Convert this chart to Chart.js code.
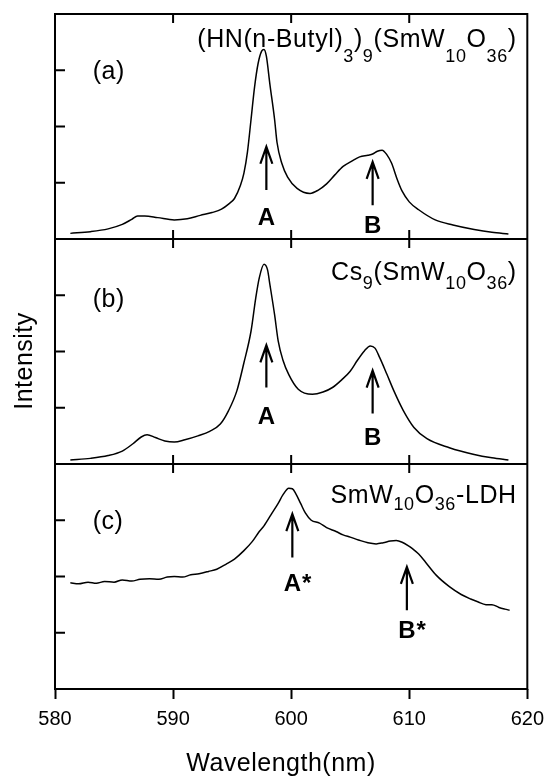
<!DOCTYPE html>
<html>
<head>
<meta charset="utf-8">
<script src="https://cdn.jsdelivr.net/npm/chart.js@4.4.1/dist/chart.umd.min.js"></script>
<style>
  html, body { margin: 0; padding: 0; background: #fff; }
  canvas { display: block; }
</style>
</head>
<body>
<canvas id="spectra" width="552" height="780"></canvas>
<script>
// panel (a): (HN(n-Butyl)3)9(SmW10O36)
const waveA = [581.3, 583.0, 584.5, 585.7, 586.5, 587.0, 587.6, 588.7, 590.1, 591.2, 592.3, 593.3, 594.1, 594.7, 595.2, 595.7, 596.0, 596.3, 596.6, 596.9, 597.2, 597.5, 597.7, 597.9, 598.2, 598.6, 598.8, 599.2, 599.7, 600.5, 601.6, 602.3, 603.0, 603.7, 604.4, 605.1, 605.8, 606.5, 606.9, 607.3, 607.7, 608.1, 608.5, 609.0, 609.4, 610.0, 610.8, 612.2, 613.7, 615.5, 617.0, 618.4];
const intA  = [0.10, 0.13, 0.18, 0.26, 0.35, 0.41, 0.41, 0.38, 0.34, 0.36, 0.42, 0.47, 0.53, 0.62, 0.72, 0.95, 1.17, 1.55, 2.12, 2.70, 3.12, 3.34, 3.37, 3.25, 2.75, 2.12, 1.72, 1.35, 1.10, 0.90, 0.81, 0.87, 0.98, 1.14, 1.29, 1.38, 1.46, 1.49, 1.51, 1.56, 1.58, 1.50, 1.35, 1.05, 0.85, 0.66, 0.52, 0.34, 0.25, 0.17, 0.12, 0.09];

// panel (b): Cs9(SmW10O36)
const waveB = [581.3, 583.0, 584.5, 585.7, 586.6, 587.3, 587.8, 588.5, 589.3, 590.1, 591.0, 592.1, 593.1, 594.0, 594.7, 595.4, 596.0, 596.6, 597.0, 597.3, 597.7, 598.0, 598.2, 598.6, 598.9, 599.3, 599.8, 600.6, 601.8, 602.7, 603.5, 604.3, 605.0, 605.6, 606.2, 606.7, 607.1, 607.5, 608.1, 608.7, 609.5, 610.4, 611.5, 613.4, 615.5, 617.0, 618.4];
const intB  = [0.07, 0.10, 0.15, 0.23, 0.36, 0.48, 0.52, 0.47, 0.41, 0.39, 0.43, 0.50, 0.58, 0.71, 0.95, 1.30, 1.80, 2.36, 2.95, 3.31, 3.55, 3.45, 3.19, 2.65, 2.19, 1.85, 1.59, 1.33, 1.24, 1.28, 1.36, 1.50, 1.65, 1.84, 2.01, 2.10, 2.06, 1.89, 1.60, 1.30, 0.95, 0.65, 0.45, 0.29, 0.17, 0.11, 0.07];

// panel (c): SmW10O36-LDH
const waveC = [581.3, 582.0, 582.8, 583.5, 584.2, 585.0, 585.7, 586.5, 587.2, 588.0, 588.8, 589.5, 590.1, 590.8, 591.5, 592.2, 593.0, 593.7, 594.5, 595.2, 596.0, 596.7, 597.3, 597.7, 598.3, 598.9, 599.3, 599.8, 600.1, 600.4, 600.8, 601.2, 601.7, 602.4, 603.0, 603.8, 604.4, 605.0, 605.7, 606.5, 607.2, 607.8, 608.4, 608.9, 609.4, 609.9, 610.3, 610.8, 611.4, 612.3, 613.4, 614.4, 615.2, 615.8, 616.5, 617.0, 617.6, 618.1, 618.5];
const intC  = [1.89, 1.87, 1.90, 1.88, 1.91, 1.90, 1.94, 1.92, 1.95, 1.96, 1.95, 1.99, 2.00, 1.99, 2.03, 2.05, 2.09, 2.13, 2.22, 2.31, 2.46, 2.62, 2.80, 2.90, 3.10, 3.30, 3.45, 3.57, 3.56, 3.47, 3.30, 3.13, 3.00, 2.95, 2.87, 2.80, 2.74, 2.70, 2.65, 2.60, 2.58, 2.60, 2.63, 2.64, 2.61, 2.55, 2.49, 2.40, 2.25, 2.02, 1.82, 1.68, 1.60, 1.55, 1.50, 1.50, 1.45, 1.42, 1.40];

const xTickValues = [580, 590, 600, 610, 620];
const yTickValues = [1, 2, 3];

// peak markers: panel, wavelength, arrow tail / head, label baseline (intensity units)
const markText  = ['A', 'B', 'A', 'B', 'A*', 'B*'];
const markPanel = ['ya', 'ya', 'yb', 'yb', 'yc', 'yc'];
const markWave  = [597.9, 606.9, 597.9, 606.9, 600.1, 609.8];
const markTail  = [0.87, 0.60, 1.36, 0.90, 2.34, 1.40];
const markHead  = [1.64, 1.37, 2.11, 1.66, 3.11, 2.17];
const markBase  = [0.25, 0.11, 0.71, 0.34, 1.75, 0.90];

const panelTags = ['(a)', '(b)', '(c)'];
const tagBase   = [2.85, 2.79, 2.84];
const formulaBase = [3.41, 3.27, 3.31];
// [text, isSubscript]
const formulaA = [['(HN(n-Butyl)', 0], ['3', 1], [')', 0], ['9', 1], ['(SmW', 0], ['10', 1], ['O', 0], ['36', 1], [')', 0]];
const formulaB = [['Cs', 0], ['9', 1], ['(SmW', 0], ['10', 1], ['O', 0], ['36', 1], [')', 0]];
const formulaC = [['SmW', 0], ['10', 1], ['O', 0], ['36', 1], ['-LDH', 0]];

const FONT = "'Liberation Sans', Arial, Helvetica, sans-serif";
const panelIds = ['ya', 'yb', 'yc'];
const formulas = [formulaA, formulaB, formulaC];
const subDrop = [15, 9, 7];

function toPoints(xs, ys) {
    return xs.map((x, i) => ({ x: x, y: ys[i] }));
}

function drawFormula(ctx, parts, right, base, drop) {
    ctx.letterSpacing = '0.6px';
    ctx.textAlign = 'left';
    ctx.textBaseline = 'alphabetic';
    const widths = parts.map(p => {
        ctx.font = (p[1] ? '18px ' : '25px ') + FONT;
        return ctx.measureText(p[0]).width;
    });
    let x = right - widths.reduce((a, b) => a + b, 0);
    parts.forEach((p, i) => {
        ctx.font = (p[1] ? '18px ' : '25px ') + FONT;
        ctx.fillText(p[0], x, base + (p[1] ? drop : 0));
        x += widths[i];
    });
    ctx.letterSpacing = '0px';
}

// frame, inner ticks, arrows and all the in-plot text
const panelInk = {
    id: 'panelInk',
    afterDraw(chart) {
        const ctx = chart.ctx;
        const area = chart.chartArea;
        const xs = chart.scales.x;
        ctx.save();
        ctx.strokeStyle = '#000';
        ctx.fillStyle = '#000';
        ctx.lineWidth = 2;

        // frame + separators
        ctx.strokeRect(area.left, area.top, area.right - area.left, area.bottom - area.top);
        ctx.beginPath();
        panelIds.forEach((id, k) => {
            const s = chart.scales[id];
            if (k < panelIds.length - 1) {
                ctx.moveTo(area.left, s.bottom);
                ctx.lineTo(area.right, s.bottom);
            }
            // y ticks pointing inward
            yTickValues.forEach(v => {
                const py = s.getPixelForValue(v);
                ctx.moveTo(area.left, py);
                ctx.lineTo(area.left + 10, py);
            });
            // x ticks on top edge of each panel (down) and bottom edge (up)
            xTickValues.slice(1, -1).forEach(v => {
                const px = xs.getPixelForValue(v);
                ctx.moveTo(px, s.top);
                ctx.lineTo(px, s.top + 9);
                if (k < panelIds.length - 1) {
                    ctx.moveTo(px, s.bottom);
                    ctx.lineTo(px, s.bottom - 9);
                }
            });
        });
        ctx.stroke();

        // arrows and peak labels
        markText.forEach((t, i) => {
            const s = chart.scales[markPanel[i]];
            const px = xs.getPixelForValue(markWave[i]);
            const yTail = s.getPixelForValue(markTail[i]);
            const yHead = s.getPixelForValue(markHead[i]);
            ctx.lineWidth = 2.2;
            ctx.beginPath();
            ctx.moveTo(px, yTail);
            ctx.lineTo(px, yHead);
            ctx.moveTo(px - 6, yHead + 17);
            ctx.lineTo(px, yHead);
            ctx.lineTo(px + 6, yHead + 17);
            ctx.stroke();
            ctx.font = 'bold 24px ' + FONT;
            ctx.textBaseline = 'alphabetic';
            ctx.textAlign = 'center';
            const by = s.getPixelForValue(markBase[i]);
            ctx.fillText(t[0], px, by);
            if (t.length > 1) {
                ctx.textAlign = 'left';
                ctx.fillText(t.slice(1), px + ctx.measureText(t[0]).width / 2 + 1, by);
            }
        });

        // panel tags and formulas
        panelIds.forEach((id, k) => {
            const s = chart.scales[id];
            ctx.font = '25px ' + FONT;
            ctx.letterSpacing = '0.5px';
            ctx.textAlign = 'left';
            ctx.textBaseline = 'alphabetic';
            ctx.fillText(panelTags[k], xs.getPixelForValue(583.2), s.getPixelForValue(tagBase[k]));
            ctx.letterSpacing = '0px';
            drawFormula(ctx, formulas[k], xs.getPixelForValue(619.1), s.getPixelForValue(formulaBase[k]), subDrop[k]);
        });

        // axis titles
        ctx.font = '25px ' + FONT;
        ctx.letterSpacing = '0.5px';
        ctx.textAlign = 'center';
        ctx.textBaseline = 'alphabetic';
        ctx.fillText('Wavelength(nm)', 281, 771);
        ctx.translate(32, 361);
        ctx.rotate(-Math.PI / 2);
        ctx.fillText('Intensity', 0, 0);
        ctx.restore();
    }
};

function panelScale(weight) {
    return {
        type: 'linear',
        position: 'left',
        stack: 'panels',
        stackWeight: 1,
        weight: weight,
        min: 0,
        max: 4,
        ticks: { display: false, stepSize: 1 },
        grid: { display: false },
        border: { display: false },
        afterFit: s => { s.width = 55; }
    };
}

new Chart(document.getElementById('spectra'), {
    type: 'line',
    data: {
        datasets: [
            { data: toPoints(waveA, intA), yAxisID: 'ya' },
            { data: toPoints(waveB, intB), yAxisID: 'yb' },
            { data: toPoints(waveC, intC), yAxisID: 'yc' }
        ].map(d => Object.assign(d, {
            borderColor: '#000',
            borderWidth: 1.5,
            pointRadius: 0,
            cubicInterpolationMode: 'monotone',
            fill: false
        }))
    },
    options: {
        responsive: false,
        animation: false,
        devicePixelRatio: 1,
        layout: { padding: { top: 14, right: 19, left: 0, bottom: 0 } },
        plugins: { legend: { display: false }, tooltip: { enabled: false } },
        scales: {
            x: {
                type: 'linear',
                min: 580,
                max: 620,
                afterBuildTicks: s => { s.ticks = xTickValues.map(v => ({ value: v })); },
                ticks: { color: '#000', font: { family: FONT, size: 20 }, padding: 8 },
                grid: { drawOnChartArea: false, tickLength: 10, tickWidth: 2, tickColor: '#000' },
                border: { display: false },
                afterFit: s => { s.height = 91; }
            },
            ya: panelScale(3),
            yb: panelScale(2),
            yc: panelScale(1)
        }
    },
    plugins: [panelInk]
});
</script>
</body>
</html>
